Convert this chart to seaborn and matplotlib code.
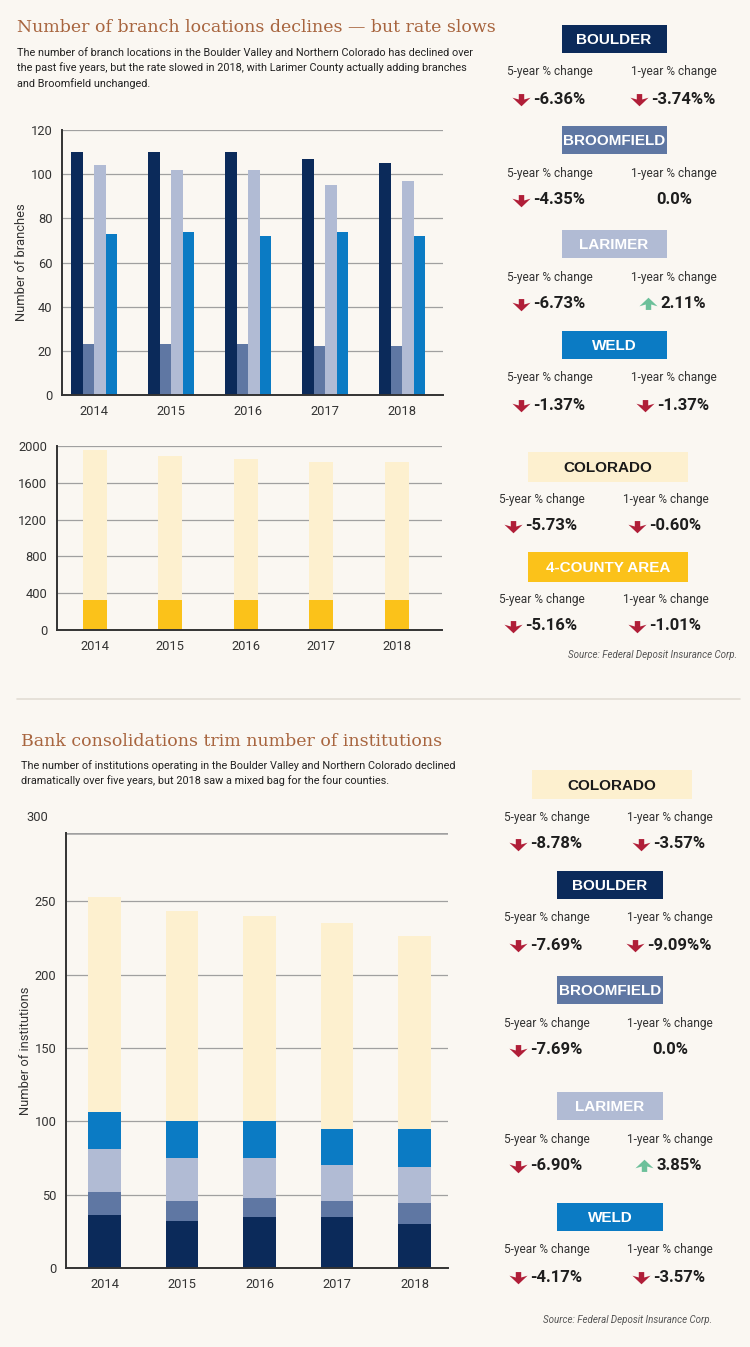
import matplotlib.pyplot as plt
import numpy as np
import pandas as pd
import seaborn as sns
from matplotlib.patches import Rectangle
from matplotlib.path import Path

years = ['2014', '2015', '2016', '2017', '2018']
counties = ['BOULDER', 'BROOMFIELD', 'LARIMER', 'WELD']

# branch locations by county
branch_boulder = [110, 110, 110, 107, 105]
branch_broomfield = [23, 23, 23, 22, 22]
branch_larimer = [104, 102, 102, 95, 97]
branch_weld = [73, 74, 72, 74, 72]

# branch locations, state vs 4-county area
branch_colorado = [1955, 1890, 1855, 1825, 1822]
branch_four_county = [326, 325, 326, 325, 324]

# institutions (stacked by county, state behind)
inst_boulder = [36, 32, 35, 35, 30]
inst_broomfield = [16, 14, 13, 11, 14]
inst_larimer = [29, 29, 27, 24, 25]
inst_weld = [25, 25, 25, 25, 26]
inst_colorado = [253, 243, 240, 235, 226]

# side panels
branch_regions = ['BOULDER', 'BROOMFIELD', 'LARIMER', 'WELD']
branch_5yr = ['-6.36%', '-4.35%', '-6.73%', '-1.37%']
branch_1yr = ['-3.74%%', '0.0%', '2.11%', '-1.37%']
state_regions = ['COLORADO', '4-COUNTY AREA']
state_5yr = ['-5.73%', '-5.16%']
state_1yr = ['-0.60%', '-1.01%']
inst_regions = ['COLORADO', 'BOULDER', 'BROOMFIELD', 'LARIMER', 'WELD']
inst_5yr = ['-8.78%', '-7.69%', '-7.69%', '-6.90%', '-4.17%']
inst_1yr = ['-3.57%', '-9.09%%', '0.0%', '3.85%', '-3.57%']

colors = {'BOULDER': '#0b2a5a', 'BROOMFIELD': '#5f77a3', 'LARIMER': '#b1bbd4',
          'WELD': '#0b7bc4', 'COLORADO': '#fdf0cf', '4-COUNTY AREA': '#fbc21a'}
BG = '#faf7f2'
TITLE_C = '#a8653f'
NARROW = ['Liberation Sans Narrow', 'Roboto', 'DejaVu Sans']
SERIF = ['DejaVu Serif']

sns.set_theme(style='white')
plt.rcParams['font.family'] = NARROW

W, H = 750, 1347
fig = plt.figure(figsize=(W / 100, H / 100), dpi=100, facecolor=BG)


def px_axes(left, top, right, bottom):
    return fig.add_axes([left / W, 1 - bottom / H, (right - left) / W, (bottom - top) / H])


def style_axes(ax, ylim, yticks):
    ax.set_facecolor('none')
    ax.set_ylim(*ylim)
    ax.set_yticks(yticks)
    ax.grid(axis='y', color='#a0a0a0', lw=0.9)
    ax.grid(axis='x', visible=False)
    ax.set_axisbelow(True)
    for s in ['top', 'right']:
        ax.spines[s].set_visible(False)
    for s in ['left', 'bottom']:
        ax.spines[s].set_color('#333333')
        ax.spines[s].set_linewidth(1.4)
    ax.tick_params(length=0, labelsize=9.3, colors='#333333', pad=7)
    ax.set_xlabel('')


bar_kw = dict(saturation=1, linewidth=0, edgecolor='none')

# chart 1: branches per county
branch_df = pd.DataFrame({
    'year': years * 4,
    'county': np.repeat(counties, len(years)),
    'branches': branch_boulder + branch_broomfield + branch_larimer + branch_weld,
})
ax1 = px_axes(62, 130, 443, 395)
sns.barplot(data=branch_df, x='year', y='branches', hue='county', hue_order=counties,
            palette=colors, width=0.6, gap=0, legend=False, ax=ax1, **bar_kw)
style_axes(ax1, (0, 120), range(0, 121, 20))
ax1.set_xlim(-0.42, 4.53)
ax1.set_ylabel('Number of branches', fontsize=9.3, color='#333333', labelpad=2)

# chart 2: Colorado vs 4-county
state_df = pd.DataFrame({'year': years, 'colorado': branch_colorado, 'four': branch_four_county})
ax2 = px_axes(57, 446, 442, 630)
sns.barplot(data=state_df, x='year', y='colorado', color=colors['COLORADO'],
            width=0.32, ax=ax2, **bar_kw)
sns.barplot(data=state_df, x='year', y='four', color=colors['4-COUNTY AREA'],
            width=0.32, ax=ax2, **bar_kw)
style_axes(ax2, (0, 2000), range(0, 2001, 400))
ax2.set_xlim(-0.5, 4.6)
ax2.set_ylabel('')

# chart 3: institutions, stacked
inst_df = pd.DataFrame({'year': years, 'colorado': inst_colorado, 'boulder': inst_boulder,
                        'broomfield': inst_broomfield, 'larimer': inst_larimer, 'weld': inst_weld})
inst_df['c_broomfield'] = inst_df['boulder'] + inst_df['broomfield']
inst_df['c_larimer'] = inst_df['c_broomfield'] + inst_df['larimer']
inst_df['c_weld'] = inst_df['c_larimer'] + inst_df['weld']
ax3 = px_axes(66, 833, 448, 1268)
for col, region in [('colorado', 'COLORADO'), ('c_weld', 'WELD'), ('c_larimer', 'LARIMER'),
                    ('c_broomfield', 'BROOMFIELD'), ('boulder', 'BOULDER')]:
    sns.barplot(data=inst_df, x='year', y=col, color=colors[region], width=0.42, ax=ax3, **bar_kw)
style_axes(ax3, (0, 296.5), range(0, 251, 50))
ax3.axhline(296.5, color='#a0a0a0', lw=1.8, zorder=0)
ax3.text(-0.047, 307, '300', transform=ax3.get_yaxis_transform(), ha='right', va='center',
         fontsize=9.3, color='#333333', clip_on=False)
ax3.set_xlim(-0.5, 4.43)
ax3.set_ylabel('Number of institutions', fontsize=9.3, color='#333333', labelpad=2)

# overlay for titles and panels, pixel coordinates
ov = fig.add_axes([0, 0, 1, 1], zorder=5)
ov.set_xlim(0, W)
ov.set_ylim(H, 0)
ov.axis('off')
ov.patch.set_alpha(0)

ov.text(17, 27, 'Number of branch locations declines \u2014 but rate slows', family=SERIF,
        fontsize=12.5, color=TITLE_C, va='center')
ov.text(17, 47, 'The number of branch locations in the Boulder Valley and Northern Colorado has declined over\n'
        'the past five years, but the rate slowed in 2018, with Larimer County actually adding branches\n'
        'and Broomfield unchanged.', fontsize=7.8, color='#222222', va='top', linespacing=1.5)
ov.plot([17, 740], [699, 699], color='#e2ddd5', lw=1.2)
ov.text(21, 742, 'Bank consolidations trim number of institutions', family=SERIF,
        fontsize=12.5, color=TITLE_C, va='center')
ov.text(21, 760, 'The number of institutions operating in the Boulder Valley and Northern Colorado declined\n'
        'dramatically over five years, but 2018 saw a mixed bag for the four counties.',
        fontsize=7.8, color='#222222', va='top', linespacing=1.5)

down_path = Path([(0, -0.75), (1, 0.2), (0.3, 0.0), (0.3, 0.6), (-0.3, 0.6), (-0.3, 0.0),
                  (-1, 0.2), (0, -0.75)], closed=True)
up_path = Path([(x, -y) for x, y in down_path.vertices], closed=True)
renderer = fig.canvas.get_renderer()


def value_text(x, y, value):
    if value.startswith('-'):
        marker, mcolor = down_path, '#b01e38'
    elif value.startswith('0.0'):
        ov.text(x, y, value, fontsize=12, weight='bold', color='#1e1e1e', ha='center', va='center')
        return
    else:
        marker, mcolor = up_path, '#6cc09a'
    t = ov.text(x + 9, y, value, fontsize=12, weight='bold', color='#1e1e1e', ha='center', va='center')
    bb = t.get_window_extent(renderer=renderer)
    ov.scatter([bb.x0 - 12], [y], marker=marker, s=170, color=mcolor, linewidths=0)


def panel(region, top, cx, bw, bh, cols, five, one):
    ov.add_patch(Rectangle((cx - bw / 2, top), bw, bh, color=colors[region], lw=0))
    tc = '#1a1a1a' if region == 'COLORADO' else 'white'
    ov.text(cx, top + bh / 2 + 1, region, family=['Liberation Sans', 'DejaVu Sans'],
            weight='bold', fontsize=11, color=tc, ha='center', va='center')
    ov.text(cols[0], top + 47, '5-year % change', fontsize=8.6, color='#333333', ha='center', va='center')
    ov.text(cols[1], top + 47, '1-year % change', fontsize=8.6, color='#333333', ha='center', va='center')
    value_text(cols[0], top + 74, five)
    value_text(cols[1], top + 74, one)


for region, top, five, one in zip(branch_regions, [25, 126, 230, 331], branch_5yr, branch_1yr):
    panel(region, top, 614, 105, 28, (550, 674), five, one)
for region, top, five, one in zip(state_regions, [452, 552], state_5yr, state_1yr):
    panel(region, top, 608, 160, 30, (542, 666), five, one)
for region, top, five, one in zip(inst_regions, [770, 871, 976, 1092, 1203], inst_5yr, inst_1yr):
    if region == 'COLORADO':
        panel(region, top, 612, 160, 29, (547, 670), five, one)
    else:
        panel(region, top, 610, 106, 28, (547, 670), five, one)

ov.text(737, 655, 'Source: Federal Deposit Insurance Corp.', fontsize=7, style='italic',
        color='#555555', ha='right', va='center')
ov.text(712, 1320, 'Source: Federal Deposit Insurance Corp.', fontsize=7, style='italic',
        color='#555555', ha='right', va='center')

fig.savefig('out.png', dpi=100, facecolor=BG)
